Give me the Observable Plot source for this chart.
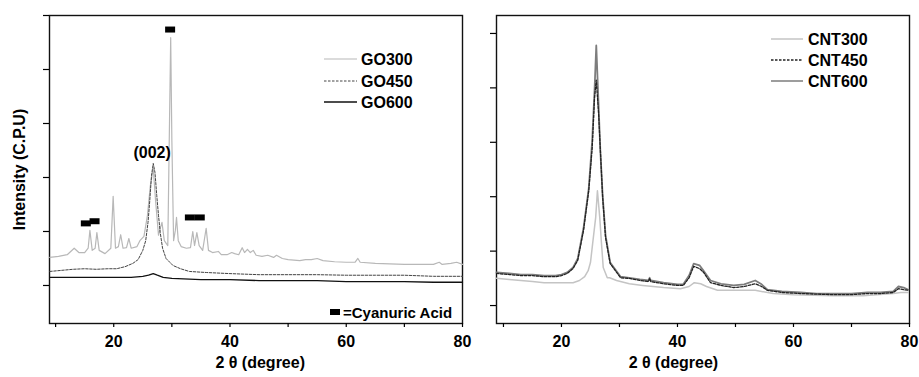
<!DOCTYPE html>
<html><head><meta charset="utf-8">
<script src="https://cdn.jsdelivr.net/npm/d3@7"></script>
<script src="https://cdn.jsdelivr.net/npm/@observablehq/plot@0.6"></script>
<style>
body{margin:0;background:#fff;}
#wrap{position:relative;width:919px;height:377px;font-family:"Liberation Sans",Arial,Helvetica,sans-serif;font-weight:bold;}
#left,#right{position:absolute;top:0;}
#left{left:0;} #right{left:470px;}
#ov{position:absolute;left:0;top:0;pointer-events:none;overflow:visible}
</style></head><body>
<div id="wrap"><div id="left"></div><div id="right"></div><svg id="ov" width="919" height="377"></svg></div>
<script>
// ---- data: [2theta (deg), intensity (a.u., tick units)] ----
const go300 = [[9.0,0.52],[10.5,0.54],[12.0,0.57],[13.2,0.69],[14.0,0.61],[15.0,0.61],[15.6,0.69],[15.9,1.02],[16.3,0.65],[16.8,0.69],[17.1,0.98],[17.5,0.65],[18.5,0.59],[19.5,0.69],[19.9,1.65],[20.3,0.69],[20.8,0.72],[21.2,0.94],[21.6,0.69],[22.2,0.70],[22.6,0.87],[23.0,0.69],[24.0,0.72],[24.5,0.83],[25.2,0.91],[25.8,1.30],[26.3,1.85],[26.8,2.17],[27.2,1.57],[27.7,0.93],[28.0,1.06],[28.3,1.17],[28.7,0.83],[29.3,0.74],[29.6,3.06],[29.8,4.59],[30.0,2.69],[30.3,0.83],[30.6,1.02],[30.8,1.26],[31.1,0.83],[31.6,0.72],[32.5,0.69],[33.2,0.70],[33.6,1.00],[33.9,0.74],[34.3,0.98],[34.7,0.74],[35.3,0.65],[35.9,1.06],[36.3,0.65],[37.0,0.61],[38.0,0.63],[38.5,0.57],[39.5,0.57],[40.3,0.61],[40.8,0.59],[41.5,0.57],[42.1,0.70],[42.5,0.61],[43.0,0.67],[43.5,0.61],[44.0,0.65],[44.5,0.56],[45.5,0.54],[46.5,0.56],[47.5,0.52],[48.0,0.56],[49.0,0.50],[50.0,0.48],[52.0,0.46],[53.0,0.48],[54.0,0.48],[55.0,0.50],[56.0,0.46],[58.0,0.44],[60.0,0.43],[61.5,0.43],[62.0,0.50],[62.4,0.43],[65.0,0.41],[70.0,0.39],[75.0,0.39],[76.0,0.43],[76.5,0.39],[78.0,0.41],[79.0,0.43],[80.0,0.39]];
const go450 = [[9.0,0.26],[11,0.28],[13,0.30],[15,0.31],[17,0.30],[19,0.31],[20.5,0.31],[22,0.35],[23.3,0.41],[24.2,0.48],[25.0,0.65],[25.5,0.83],[25.9,1.17],[26.2,1.57],[26.5,2.04],[26.8,2.26],[27.1,2.09],[27.4,1.67],[27.7,1.30],[28.0,0.98],[28.4,0.69],[29.0,0.50],[30.2,0.37],[31.5,0.31],[33.0,0.26],[36,0.24],[40,0.22],[45,0.20],[50,0.20],[55,0.20],[60,0.19],[65,0.19],[70,0.19],[75,0.17],[80,0.17]];
const go600 = [[9,0.15],[12,0.15],[15,0.15],[18,0.15],[21,0.15],[23,0.15],[25,0.17],[26,0.19],[26.8,0.22],[27.5,0.19],[28.5,0.15],[30,0.13],[35,0.11],[40,0.11],[45,0.09],[50,0.09],[55,0.09],[60,0.07],[65,0.07],[70,0.07],[75,0.06],[80,0.06]];
const cnt300 = [[8.8,0.50],[11,0.48],[13,0.46],[15,0.44],[17,0.42],[20,0.42],[22,0.42],[23.1,0.46],[24.0,0.53],[24.6,0.64],[25.0,0.79],[25.3,1.07],[25.9,1.62],[26.2,2.11],[26.6,1.62],[26.9,1.14],[27.2,0.70],[27.9,0.51],[28.3,0.51],[29.5,0.46],[31.7,0.40],[34,0.37],[37.6,0.33],[40.5,0.31],[42.0,0.35],[42.9,0.42],[44.0,0.40],[45.0,0.35],[46.9,0.28],[50,0.28],[53.4,0.28],[56.5,0.22],[60,0.20],[66.9,0.18],[72,0.18],[77.2,0.22],[78.5,0.24],[79.8,0.24]];
const cnt450 = [[8.8,0.59],[11,0.57],[13,0.55],[15,0.55],[17,0.53],[19,0.53],[20,0.55],[21,0.59],[22,0.68],[22.8,0.83],[23.8,1.38],[24.7,2.11],[25.3,2.90],[25.7,3.82],[26.0,4.14],[26.4,3.53],[27.1,1.99],[27.6,1.25],[28.4,0.77],[30.2,0.51],[31.7,0.50],[33.5,0.46],[35.0,0.44],[35.2,0.50],[35.4,0.44],[37.6,0.40],[40.0,0.37],[41.0,0.37],[42.0,0.51],[42.8,0.72],[43.8,0.68],[44.5,0.61],[45.7,0.42],[47.5,0.37],[49.7,0.33],[51.5,0.35],[53.4,0.40],[54.5,0.35],[55.5,0.28],[58,0.24],[61.2,0.22],[64,0.21],[66.9,0.20],[70,0.20],[72.8,0.22],[75,0.22],[77.2,0.24],[78.1,0.31],[79,0.29],[79.8,0.28]];
const cnt600 = [[8.8,0.61],[11,0.59],[13,0.57],[15,0.57],[17,0.55],[19,0.55],[20,0.57],[21,0.61],[22,0.70],[22.8,0.86],[23.8,1.42],[24.7,2.15],[25.3,3.03],[25.7,3.95],[26.0,4.78],[26.3,3.95],[26.7,2.85],[27.1,2.02],[27.6,1.29],[28.4,0.79],[30.2,0.53],[31.7,0.51],[33.5,0.48],[35.0,0.46],[35.2,0.51],[35.4,0.46],[37.6,0.42],[40.0,0.39],[41.0,0.39],[42.0,0.55],[42.8,0.77],[43.8,0.74],[44.5,0.64],[45.7,0.46],[47.5,0.40],[49.7,0.37],[51.5,0.39],[53.4,0.46],[54.5,0.39],[55.5,0.29],[58,0.26],[61.2,0.24],[64,0.22],[66.9,0.22],[70,0.22],[72.8,0.24],[75,0.24],[77.2,0.26],[78.1,0.35],[79,0.33],[79.8,0.29]];
// cyanuric acid reflections marked on GO300
const cyanuricMarks = [[15.2,1.15],[16.7,1.19],[29.7,4.74],[33.1,1.26],[34.8,1.26]];
const peakLabel = [{x:26.6, y:2.46, text:"(002)"}];
const xTicks = [10,20,30,40,50,60,70,80];
const goNames = ["GO300","GO450","GO600"];
const cntNames = ["CNT300","CNT450","CNT600"];

const FONT = '"Liberation Sans", Arial, Helvetica, sans-serif';
const baseStyle = {fontFamily: FONT, fontSize: "16px", fontWeight: "bold", color: "#000", background: "transparent", overflow: "visible"};
const rectSymbol = {draw(ctx){ctx.moveTo(-5,-3);ctx.lineTo(5,-3);ctx.lineTo(5,3);ctx.lineTo(-5,3);ctx.closePath();}};
const xAxis = () => Plot.axisX({ticks: xTicks, tickSize: 4, tickPadding: 8, strokeWidth: 1.2, tickFormat: d => d % 20 === 0 ? String(d) : "", label: null});

const left = Plot.plot({
  width: 470, height: 377, marginLeft: 49, marginRight: 8, marginTop: 15, marginBottom: 54,
  style: baseStyle,
  x: {domain: [8.95, 80]},
  y: {domain: [-0.704, 5.0]},
  marks: [
    Plot.frame({stroke: "#111", strokeWidth: 1.4}),
    Plot.axisY({ticks: [0,1,2,3,4,5], tickSize: 6, strokeWidth: 1.2, tickFormat: () => "", label: "Intensity (C.P.U)", labelAnchor: "center", labelArrow: "none", labelOffset: 36}),
    xAxis(),
    Plot.line(go300, {x: d => d[0], y: d => d[1], stroke: "#b8b8b8", strokeWidth: 1.2}),
    Plot.line(go450, {x: d => d[0], y: d => d[1], stroke: "#444", strokeWidth: 1, strokeDasharray: "2.5,1.5"}),
    Plot.line(go600, {x: d => d[0], y: d => d[1], stroke: "#111", strokeWidth: 1.3}),
    Plot.dot(cyanuricMarks, {x: d => d[0], y: d => d[1], symbol: rectSymbol, fill: "#000", stroke: null}),
    Plot.text(peakLabel, {x: "x", y: "y", text: "text", fontSize: 16, fontWeight: "bold", fill: "#000"}),
    Plot.text(["2 θ (degree)"], {x: 45.2, frameAnchor: "bottom", dy: 44, fontSize: 16, fontWeight: "bold", fill: "#000"})
  ]
});
document.getElementById("left").append(left);

const right = Plot.plot({
  width: 449, height: 377, marginLeft: 26, marginRight: 10, marginTop: 15, marginBottom: 54,
  style: baseStyle,
  x: {domain: [8.8, 80]},
  y: {domain: [-0.33, 5.33]},
  marks: [
    Plot.frame({stroke: "#111", strokeWidth: 1.4}),
    Plot.axisY({ticks: [0,1,2,3,4,5], tickSize: 6, strokeWidth: 1.2, tickFormat: () => "", label: null}),
    xAxis(),
    Plot.line(cnt300, {x: d => d[0], y: d => d[1], stroke: "#c4c4c4", strokeWidth: 1.5}),
    Plot.line(cnt600, {x: d => d[0], y: d => d[1], stroke: "#7d7d7d", strokeWidth: 1.8}),
    Plot.line(cnt450, {x: d => d[0], y: d => d[1], stroke: "#222", strokeWidth: 1.3, strokeDasharray: "2.5,1.5"}),
    Plot.text(["2 θ (degree)"], {x: 39.3, frameAnchor: "bottom", dy: 44, fontSize: 16, fontWeight: "bold", fill: "#000"})
  ]
});
document.getElementById("right").append(right);

// ---- legends (overlay) ----
const ov = d3.select("#ov");
function legend(names, styles, x0, x1, tx, ys) {
  names.forEach((n, i) => {
    ov.append("line").attr("x1", x0).attr("x2", x1).attr("y1", ys[i]).attr("y2", ys[i])
      .attr("stroke", styles[i].stroke).attr("stroke-width", styles[i].w)
      .attr("stroke-dasharray", styles[i].dash || null);
    ov.append("text").attr("x", tx).attr("y", ys[i] + 6).text(n)
      .attr("font-family", FONT).attr("font-weight", "bold").attr("font-size", 16).attr("fill", "#000");
  });
}
legend(goNames, [{stroke:"#b8b8b8", w:1.2},{stroke:"#444", w:1, dash:"2.5,1.5"},{stroke:"#111", w:1.3}], 324, 357, 361, [59, 81, 102]);
legend(cntNames, [{stroke:"#c4c4c4", w:1.5},{stroke:"#222", w:1.3, dash:"2.5,1.5"},{stroke:"#7d7d7d", w:1.5}], 771, 803, 808, [39, 60, 81]);
ov.append("rect").attr("x", 330).attr("y", 309).attr("width", 10).attr("height", 6).attr("fill", "#000");
ov.append("text").attr("x", 343).attr("y", 318).text("=Cyanuric Acid")
  .attr("font-family", FONT).attr("font-weight", "bold").attr("font-size", 15).attr("fill", "#000");
</script>
</body></html>
